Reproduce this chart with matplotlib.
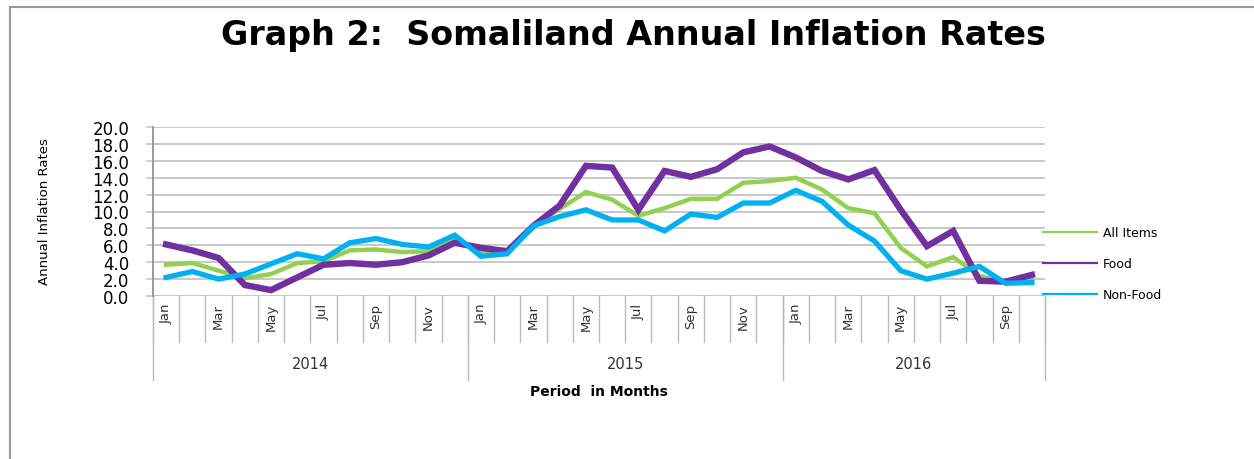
"""
    Graph 2: Somaliland annual inflation rates
"""
import matplotlib
matplotlib.use("Agg")
import matplotlib.pyplot as plt
from matplotlib.lines import Line2D
from matplotlib.transforms import blended_transform_factory

month_names = ["Jan", "Feb", "Mar", "Apr", "May", "Jun",
               "Jul", "Aug", "Sep", "Oct", "Nov", "Dec"]
years = ["2014", "2015", "2016"]
months_per_year = [12, 12, 10]

all_items = [3.7, 3.9, 3.0, 2.1, 2.6, 3.9, 4.1, 5.4, 5.5, 5.2, 5.3, 6.8,
             5.2, 5.0, 8.3, 10.3, 12.3, 11.4, 9.5, 10.4, 11.5, 11.5, 13.4, 13.6,
             14.0, 12.6, 10.4, 9.8, 5.7, 3.5, 4.6, 2.4, 1.6, 1.9]
food = [6.1, 5.4, 4.5, 1.3, 0.7, 2.2, 3.7, 3.9, 3.7, 4.0, 4.8, 6.3,
        5.7, 5.3, 8.3, 10.7, 15.4, 15.2, 10.2, 14.8, 14.1, 15.0, 17.0, 17.7,
        16.4, 14.8, 13.8, 14.9, 10.2, 5.9, 7.7, 1.8, 1.7, 2.5]
non_food = [2.2, 2.9, 2.0, 2.6, 3.8, 5.0, 4.4, 6.3, 6.8, 6.1, 5.8, 7.2,
            4.7, 5.0, 8.3, 9.4, 10.2, 9.0, 9.0, 7.7, 9.7, 9.3, 11.0, 11.0,
            12.5, 11.2, 8.4, 6.5, 3.0, 2.0, 2.7, 3.5, 1.5, 1.6]

series = [
    ("All Items", all_items, "#92D050", 3.2),
    ("Food", food, "#7030A0", 4.6),
    ("Non-Food", non_food, "#00B0F0", 3.8),
]

W, H = 1254, 460


def main():
    fig = plt.figure(figsize=(W / 100, H / 100), dpi=100)
    ax = fig.add_axes([153 / W, 1 - 297 / H, (1045 - 153) / W, (297 - 128) / H])

    n = sum(months_per_year)
    x = list(range(n))

    for name, values, color, lw in series:
        ax.plot(x, values, color=color, lw=lw, label=name,
                solid_joinstyle="miter", clip_on=False)

    ax.set_xlim(-0.5, n - 0.5)
    ax.set_ylim(0, 20)
    ax.set_yticks(range(0, 21, 2))
    ax.set_yticklabels([f"{v:.1f}" for v in range(0, 21, 2)], fontsize=12)
    ax.grid(axis="y", color="#c8c8c8", lw=1.4)
    ax.set_axisbelow(True)
    ax.tick_params(axis="y", length=5, width=1.2, color="#c8c8c8", pad=12)
    ax.set_xticks([])
    for side in ["top", "right", "bottom"]:
        ax.spines[side].set_visible(False)
    ax.spines["left"].set_color("#999999")
    ax.spines["left"].set_linewidth(1.4)

    # kategoriální osa: měsíce a roky pod grafem
    trans = blended_transform_factory(ax.transData, ax.transAxes)
    month_drop = (343 - 297) / (297 - 128)
    year_drop = (381 - 297) / (297 - 128)
    for i in range(n + 1):
        ax.plot([i - 0.5, i - 0.5], [0, -month_drop], color="#bbbbbb",
                lw=1.0, transform=trans, clip_on=False)
    for i in range(n):
        if i % 2 == 0:
            ax.text(i, -0.04, month_names[i % 12], rotation=90, ha="center",
                    va="top", fontsize=9.5, color="#333333", transform=trans)

    start = 0
    for year, count in zip(years, months_per_year):
        ax.plot([start - 0.5, start - 0.5], [0, -year_drop], color="#bbbbbb",
                lw=1.0, transform=trans, clip_on=False)
        ax.text(start + count / 2 - 0.5, -(365 - 297) / (297 - 128),
                year, ha="center", va="center", fontsize=10.5,
                color="#333333", transform=trans)
        start += count
    ax.plot([n - 0.5, n - 0.5], [0, -year_drop], color="#bbbbbb",
            lw=1.0, transform=trans, clip_on=False)

    fig.text(599 / W, 1 - 392 / H, "Period  in Months", ha="center",
             va="center", fontsize=10, fontweight="bold")
    fig.text(45 / W, 1 - 212 / H, "Annual Inflation Rates", rotation=90,
             ha="center", va="center", fontsize=9.5,
             family=["Liberation Sans Narrow", "DejaVu Sans"])
    fig.text(633 / W, 1 - 36 / H, "Graph 2:  Somaliland Annual Inflation Rates",
             ha="center", va="center", fontsize=24, fontweight="bold")

    handles = [Line2D([], [], color=c, lw=1.6) for _, _, c, _ in series]
    ax.legend(handles, [s[0] for s in series], loc="upper left",
              bbox_to_anchor=(1043 / W, 1 - 227 / H),
              bbox_transform=fig.transFigure, frameon=False, fontsize=9,
              borderpad=0, borderaxespad=0, handlelength=4.3,
              handletextpad=0.5, labelspacing=1.45)

    # rámeček grafu (jen levá a horní hrana)
    fig.add_artist(Line2D([10 / W, 10 / W], [0, 1 - 8 / H],
                          color="#999999", lw=1.5))
    fig.add_artist(Line2D([10 / W, 1], [1 - 8 / H, 1 - 8 / H],
                          color="#999999", lw=1.5))

    fig.savefig("out.png", dpi=100)


if __name__ == "__main__":
    main()
